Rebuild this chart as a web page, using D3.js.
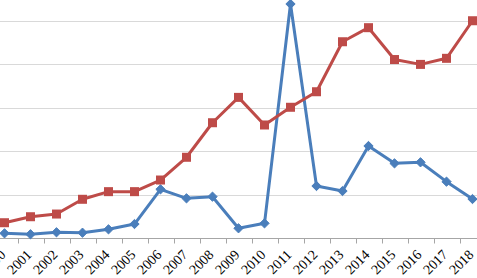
<!DOCTYPE html>
<html>
<head>
<meta charset="utf-8">
<script src="https://cdn.jsdelivr.net/npm/d3@7"></script>
<style>
  html, body { margin: 0; padding: 0; background: #fff; }
  svg { display: block; }
</style>
</head>
<body>
<script>
// data
const years = ["2000","2001","2002","2003","2004","2005","2006","2007","2008","2009",
               "2010","2011","2012","2013","2014","2015","2016","2017","2018"];
const blueSeries = [5.4, 4.3, 6.6, 6.1, 10, 16.1, 56.1, 45.7, 47.6, 11.2,
                    16.9, 269.6, 59.9, 54.1, 106, 86, 87.2, 64.9, 44.9];
const redSeries = [17.6, 24.5, 27.6, 44.6, 53.4, 53.4, 66.8, 93, 132.8, 162,
                   130.2, 150.6, 168.5, 226.1, 242.3, 205.6, 200, 207, 250.3];
const gridTicks = [0, 50, 100, 150, 200, 250];

const width = 477, height = 278;

const svg = d3.select("body").append("svg")
  .attr("width", width)
  .attr("height", height);

// the chart is cropped on both sides, so the band range runs past the edges
const x = d3.scaleBand()
  .domain(years)
  .range([-8.5, 485.5])
  .padding(0);

const y = d3.scaleLinear()
  .domain([0, 300])
  .range([238, -22.4]);

const cx = d => x(d) + x.bandwidth() / 2;

// gridlines
svg.append("g")
  .selectAll("line")
  .data(gridTicks.filter(d => d > 0))
  .enter()
  .append("line")
  .attr("x1", 0)
  .attr("x2", width)
  .attr("y1", d => Math.round(y(d)) + 0.5)
  .attr("y2", d => Math.round(y(d)) + 0.5)
  .attr("stroke", "#d9d9d9")
  .attr("stroke-width", 1);

// x axis
const xAxis = d3.axisBottom(x).tickSize(0).tickPadding(0);
const gx = svg.append("g")
  .attr("transform", `translate(0,${Math.round(y(0)) + 0.5})`)
  .call(xAxis);
gx.select(".domain").remove();
gx.append("line")
  .attr("x1", 0)
  .attr("x2", width)
  .attr("stroke", "#a6a6a6")
  .attr("stroke-width", 1);

// tick marks sit on the band edges
gx.selectAll(".edge")
  .data(years)
  .enter()
  .append("line")
  .attr("class", "edge")
  .attr("x1", d => Math.round(x(d)) + 0.5)
  .attr("x2", d => Math.round(x(d)) + 0.5)
  .attr("y1", 0)
  .attr("y2", 5)
  .attr("stroke", "#a6a6a6");

gx.selectAll(".tick text")
  .attr("text-anchor", "end")
  .attr("y", 0)
  .attr("dy", 0)
  .attr("transform", "translate(2,17) rotate(-45)")
  .attr("fill", "#000")
  .style("font-family", "'Liberation Serif', 'Times New Roman', serif")
  .style("font-size", "14px");

// lines
const line = d3.line()
  .x((d, i) => cx(years[i]))
  .y(d => y(d));

const blue = "#4a7ebb";
const red = "#be4b48";

svg.append("path")
  .datum(blueSeries)
  .attr("d", line)
  .attr("fill", "none")
  .attr("stroke", blue)
  .attr("stroke-width", 3)
  .attr("stroke-linejoin", "round");

svg.append("g")
  .selectAll("path")
  .data(blueSeries)
  .enter()
  .append("path")
  .attr("d", d3.symbol().type(d3.symbolDiamond2).size(55))
  .attr("transform", (d, i) => `translate(${cx(years[i])},${y(d)})`)
  .attr("fill", blue)
  .attr("stroke", blue)
  .attr("stroke-width", 1);

svg.append("path")
  .datum(redSeries)
  .attr("d", line)
  .attr("fill", "none")
  .attr("stroke", red)
  .attr("stroke-width", 3)
  .attr("stroke-linejoin", "round");

svg.append("g")
  .selectAll("rect")
  .data(redSeries)
  .enter()
  .append("rect")
  .attr("x", (d, i) => cx(years[i]) - 4.5)
  .attr("y", d => y(d) - 4.5)
  .attr("width", 9)
  .attr("height", 9)
  .attr("fill", red);
</script>
</body>
</html>
